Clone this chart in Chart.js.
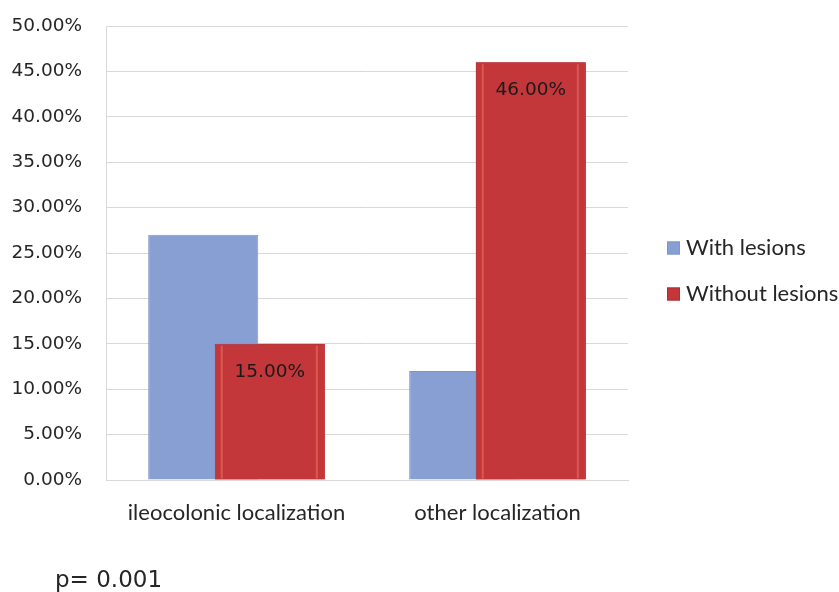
<!DOCTYPE html>
<html>
<head>
<meta charset="utf-8">
<script src="https://cdn.jsdelivr.net/npm/chart.js@4/dist/chart.umd.min.js"></script>
<style>
  html, body { margin: 0; padding: 0; background: #ffffff; }
  #c { display: block; }
</style>
</head>
<body>
<canvas id="c" width="839" height="592" style="width:839px;height:592px"></canvas>
<script>
// Share of patients by localization, with and without lesions (percent)
const categories = ['ileocolonic localization', 'other localization'];
const seriesNames = ['With lesions', 'Without lesions'];
const withLesions = [27, 12];
const withoutLesions = [15, 46];
const yMin = 0;
const yMax = 50;
const yStep = 5;
const pValueText = 'p= 0.001';

const BLUE = '#879FD3';
const RED = '#C3363A';
const TEXT = '#262626';
const GRID = '#d9d9d9';

const pct = v => Number(v).toFixed(2) + '%';

// Red bars sit in front of the blue ones: draw that dataset once more on top.
const frontBars = {
  id: 'frontBars',
  afterDatasetsDraw(chart) {
    const meta = chart.getDatasetMeta(1);
    meta.controller.draw();
    const ctx = chart.ctx;
    ctx.save();
    // soft bevel highlights inside each red bar
    meta.data.forEach(bar => {
      const left = bar.x - bar.width / 2;
      const right = bar.x + bar.width / 2;
      ctx.strokeStyle = 'rgba(236,120,96,0.55)';
      ctx.lineWidth = 2;
      ctx.beginPath();
      ctx.moveTo(left + 7, bar.y + 2);
      ctx.lineTo(left + 7, bar.base - 1);
      ctx.moveTo(right - 8, bar.y + 2);
      ctx.lineTo(right - 8, bar.base - 1);
      ctx.stroke();
    });
    // value labels near the top of the red bars
    ctx.fillStyle = '#1a1a1a';
    ctx.font = '18.5px "DejaVu Sans"';
    ctx.textAlign = 'center';
    ctx.textBaseline = 'middle';
    meta.data.forEach((bar, i) => {
      ctx.fillText(pct(chart.data.datasets[1].data[i]), bar.x, bar.y + 28);
    });
    ctx.restore();
  }
};

// Legend on the right and the p-value note under the chart.
const sideNotes = {
  id: 'sideNotes',
  afterDraw(chart) {
    const ctx = chart.ctx;
    ctx.save();
    const rows = [248, 294];
    ctx.font = '22px Lato';
    ctx.textAlign = 'left';
    ctx.textBaseline = 'middle';
    chart.data.datasets.forEach((ds, i) => {
      const y = rows[i];
      ctx.fillStyle = ds.backgroundColor;
      ctx.fillRect(667, y - 6.5, 13, 13);
      ctx.strokeStyle = ds.borderColor;
      ctx.lineWidth = 1;
      ctx.strokeRect(667.5, y - 6, 12, 12);
      ctx.fillStyle = TEXT;
      ctx.fillText(ds.label, 686, y);
    });
    ctx.font = '23px "DejaVu Sans"';
    ctx.textBaseline = 'alphabetic';
    ctx.fillStyle = TEXT;
    ctx.fillText(pValueText, 55, 587);
    ctx.restore();
  }
};

new Chart(document.getElementById('c'), {
  type: 'bar',
  data: {
    labels: categories,
    datasets: [
      {
        label: seriesNames[0],
        data: withLesions,
        backgroundColor: BLUE,
        borderColor: '#7d95c9',
        borderWidth: 1,
        categoryPercentage: 0.51,
        barPercentage: 1.654
      },
      {
        label: seriesNames[1],
        data: withoutLesions,
        backgroundColor: RED,
        borderColor: '#b52c30',
        borderWidth: 1,
        categoryPercentage: 0.51,
        barPercentage: 1.654
      }
    ]
  },
  options: {
    responsive: false,
    animation: false,
    layout: { autoPadding: false, padding: { top: 26, right: 211, bottom: 62, left: 0 } },
    plugins: {
      legend: { display: false },
      tooltip: { enabled: false }
    },
    scales: {
      x: {
        grid: { display: false, drawTicks: false },
        border: { display: true, color: GRID },
        ticks: { color: TEXT, font: { family: 'Lato', size: 22 }, padding: 20 },
        afterFit(scale) { scale.height = 50; }
      },
      y: {
        min: yMin,
        max: yMax,
        // invisible tick marks keep the labels clear of the axis
        grid: { color: GRID, drawTicks: true, tickLength: 24, tickColor: 'rgba(0,0,0,0)' },
        border: { display: true, color: GRID },
        ticks: {
          stepSize: yStep,
          color: TEXT,
          font: { family: 'DejaVu Sans', size: 18.5 },
          padding: 0,
          callback: v => pct(v)
        },
        afterFit(scale) { scale.width = 106; }
      }
    }
  },
  plugins: [frontBars, sideNotes]
});
</script>
</body>
</html>
